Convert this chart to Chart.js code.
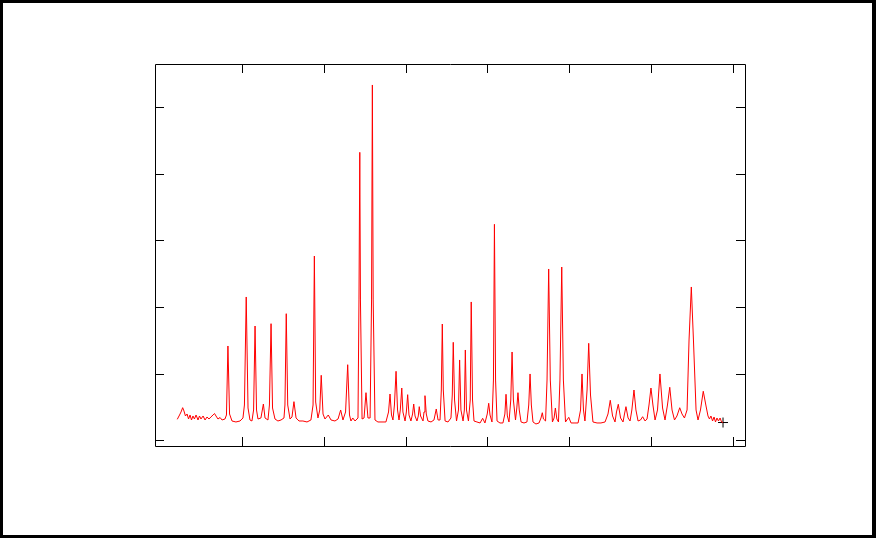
<!DOCTYPE html>
<html>
<head>
<meta charset="utf-8">
<script src="https://cdn.jsdelivr.net/npm/chart.js@4/dist/chart.umd.min.js"></script>
<style>
  html, body { margin: 0; padding: 0; background: #fff; }
  canvas { display: block; }
</style>
</head>
<body>
<canvas id="xrd" width="876" height="538"></canvas>
<script>
// 2theta (deg)
var twoTheta = [
  6.02, 6.16, 6.25, 6.35, 6.43, 6.52, 6.62, 6.71, 6.80, 6.89, 6.98, 7.07, 7.17, 7.29, 7.38,
  7.47, 7.60, 7.72, 7.84, 7.96, 8.08, 8.21, 8.30, 8.39, 8.51, 8.64, 8.76, 8.94,
  9.03, 9.12, 9.22, 9.37, 9.61, 9.86, 10.04, 10.13, 10.24, 10.35, 10.47, 10.59, 10.69, 10.78, 10.87,
  10.96, 11.14, 11.29, 11.39, 11.57, 11.66, 11.76, 11.85, 12.00, 12.18, 12.37, 12.55, 12.61, 12.69, 12.78,
  12.92, 13.04, 13.16, 13.29, 13.47, 13.71, 13.96, 14.20, 14.33, 14.41, 14.49, 14.63, 14.74, 14.83, 14.94,
  15.06, 15.26, 15.43, 15.67, 15.86, 16.02, 16.16, 16.32, 16.45, 16.56, 16.65, 16.76, 16.90, 17.08, 17.14,
  17.19, 17.23, 17.33, 17.45, 17.57, 17.69, 17.82, 17.91, 17.96, 18.01, 18.12, 18.30, 18.55, 18.79, 18.95,
  19.04, 19.13, 19.22, 19.31, 19.41, 19.50, 19.59, 19.67, 19.76, 19.83, 19.96, 20.04, 20.12, 20.20, 20.32,
  20.42, 20.49, 20.57, 20.69, 20.77, 20.83, 20.91, 21.06, 21.12, 21.18, 21.26, 21.36, 21.55, 21.73, 21.87,
  21.98, 22.10, 22.18, 22.24, 22.30, 22.41, 22.59, 22.77, 22.85, 22.91, 22.99, 23.11, 23.23, 23.30, 23.38,
  23.51, 23.59, 23.65, 23.72, 23.84, 23.95, 24.01, 24.09, 24.18, 24.36, 24.55, 24.71, 24.85, 24.99, 25.08,
  25.16, 25.28, 25.37, 25.43, 25.50, 25.59, 25.77, 25.95, 26.07, 26.14, 26.22, 26.32, 26.43, 26.51, 26.59,
  26.72, 26.80, 26.87, 26.95, 27.06, 27.24, 27.42, 27.53, 27.61, 27.69, 27.79, 27.97, 28.16, 28.28, 28.36,
  28.43, 28.56, 28.65, 28.75, 28.85, 28.98, 29.08, 29.16, 29.25, 29.35, 29.44, 29.55, 29.65, 29.78, 29.98,
  30.12, 30.36, 30.55, 30.70, 30.79, 30.88, 30.97, 31.10, 31.20, 31.31, 31.46, 31.71, 31.95, 32.20, 32.38,
  32.52, 32.66, 32.81, 32.90, 33.01, 33.15, 33.30, 33.39, 33.48, 33.61, 33.73, 33.84, 33.97, 34.09, 34.22,
  34.37, 34.50, 34.65, 34.77, 34.89, 35.01, 35.13, 35.26, 35.41, 35.56, 35.72, 35.87, 36.02, 36.16, 36.30,
  36.45, 36.60, 36.77, 36.91, 37.06, 37.22, 37.34, 37.48, 37.61, 37.77, 37.89, 38.04, 38.21, 38.38, 38.50,
  38.59, 38.68, 38.78, 38.87, 38.96, 39.05, 39.14, 39.24, 39.33, 39.42
];

// intensity (counts)
var counts = [
  315, 380, 425, 490, 440, 365, 395, 320, 380, 305, 365, 320, 380, 305, 365,
  320, 365, 305, 350, 320, 350, 380, 402, 365, 320, 342, 305, 320,
  380, 1416, 395, 290, 275, 290, 335, 530, 2152, 485, 305, 290, 455, 1716, 455,
  320, 335, 545, 335, 305, 530, 1751, 485, 320, 290, 305, 335, 530, 1901, 530,
  320, 350, 580, 335, 290, 290, 275, 305, 530, 2767, 575, 335, 455, 976, 395,
  320, 380, 305, 290, 320, 455, 305, 425, 1135, 380, 290, 335, 290, 335, 2107,
  4324, 2107, 320, 335, 715, 335, 335, 2107, 5335, 2107, 305, 275, 275, 275, 425,
  695, 380, 305, 530, 1036, 455, 305, 455, 785, 425, 290, 425, 685, 380, 290,
  395, 545, 365, 290, 365, 505, 365, 290, 425, 670, 395, 290, 275, 305, 470,
  305, 305, 755, 1746, 755, 290, 275, 335, 680, 1471, 605, 290, 455, 1206, 455,
  290, 455, 1356, 455, 290, 605, 2077, 605, 290, 275, 260, 330, 260, 395, 556,
  380, 275, 905, 3243, 905, 290, 260, 260, 395, 691, 365, 275, 605, 1326, 605,
  305, 485, 715, 455, 275, 260, 275, 530, 996, 530, 275, 245, 260, 335, 414,
  320, 290, 905, 2572, 905, 275, 335, 485, 320, 275, 905, 2602, 905, 275, 345,
  260, 260, 260, 455, 996, 455, 290, 755, 1456, 680, 275, 260, 260, 275, 395,
  601, 365, 275, 425, 541, 335, 275, 395, 505, 335, 290, 455, 755, 455, 290,
  305, 354, 290, 320, 530, 785, 530, 305, 455, 996, 485, 305, 530, 796, 455,
  305, 365, 489, 395, 335, 455, 1506, 2302, 1506, 455, 305, 455, 736, 515, 365,
  320, 365, 290, 350, 275, 335, 290, 335, 275, 267
];

var xTicks = [10, 15, 20, 25, 30, 35, 40];
var yTicks = [0, 1000, 2000, 3000, 4000, 5000];

var points = twoTheta.map(function(t, i) { return { x: t, y: counts[i] }; });
var last = points[points.length - 1];

// gnuplot-style frame with inward mirrored ticks
var framePlugin = {
    id: 'frame',
    beforeDraw: function(chart) {
        var ctx = chart.ctx;
        ctx.save();
        ctx.fillStyle = '#000';
        ctx.fillRect(0, 0, chart.width, chart.height);
        ctx.fillStyle = '#fff';
        ctx.fillRect(3, 3, chart.width - 7, chart.height - 6);
        ctx.restore();
    },
    afterDatasetsDraw: function(chart) {
        var ctx = chart.ctx;
        var a = chart.chartArea;
        var xs = chart.scales.x, ys = chart.scales.y;
        var tl = 9;
        ctx.save();
        ctx.strokeStyle = '#000';
        ctx.lineWidth = 1;
        ctx.beginPath();
        ctx.rect(Math.round(a.left) + 0.5, Math.round(a.top) + 0.5,
                 Math.round(a.right - a.left), Math.round(a.bottom - a.top));
        xTicks.forEach(function(v) {
            var px = Math.round(xs.getPixelForValue(v)) + 0.5;
            ctx.moveTo(px, a.bottom);
            ctx.lineTo(px, a.bottom - tl);
            ctx.moveTo(px, a.top);
            ctx.lineTo(px, a.top + tl);
        });
        yTicks.forEach(function(v) {
            var py = Math.round(ys.getPixelForValue(v)) + 0.5;
            ctx.moveTo(a.left, py);
            ctx.lineTo(a.left + tl, py);
            ctx.moveTo(a.right, py);
            ctx.lineTo(a.right - tl, py);
        });
        ctx.stroke();
        ctx.restore();
    }
};

var ctx = document.getElementById('xrd');

var myChart = new Chart(ctx, {
    type: 'line',
    data: {
        datasets: [{
            data: points,
            borderColor: '#ff0000',
            borderWidth: 1,
            pointRadius: 0,
            tension: 0,
            fill: false
        },
        {
            data: [last],
            showLine: false,
            pointStyle: 'cross',
            pointRadius: 5,
            pointBorderColor: '#000',
            pointBorderWidth: 1
        }]
    },
    options: {
        responsive: false,
        animation: false,
        devicePixelRatio: 1,
        layout: { padding: { left: 155, top: 64, right: 131, bottom: 92 } },
        plugins: { legend: { display: false }, tooltip: { enabled: false } },
        scales: {
            x: { type: 'linear', display: false, min: 4.657, max: 40.765 },
            y: { type: 'linear', display: false, min: -85.6, max: 5650 }
        }
    },
    plugins: [framePlugin]
});
</script>
</body>
</html>
